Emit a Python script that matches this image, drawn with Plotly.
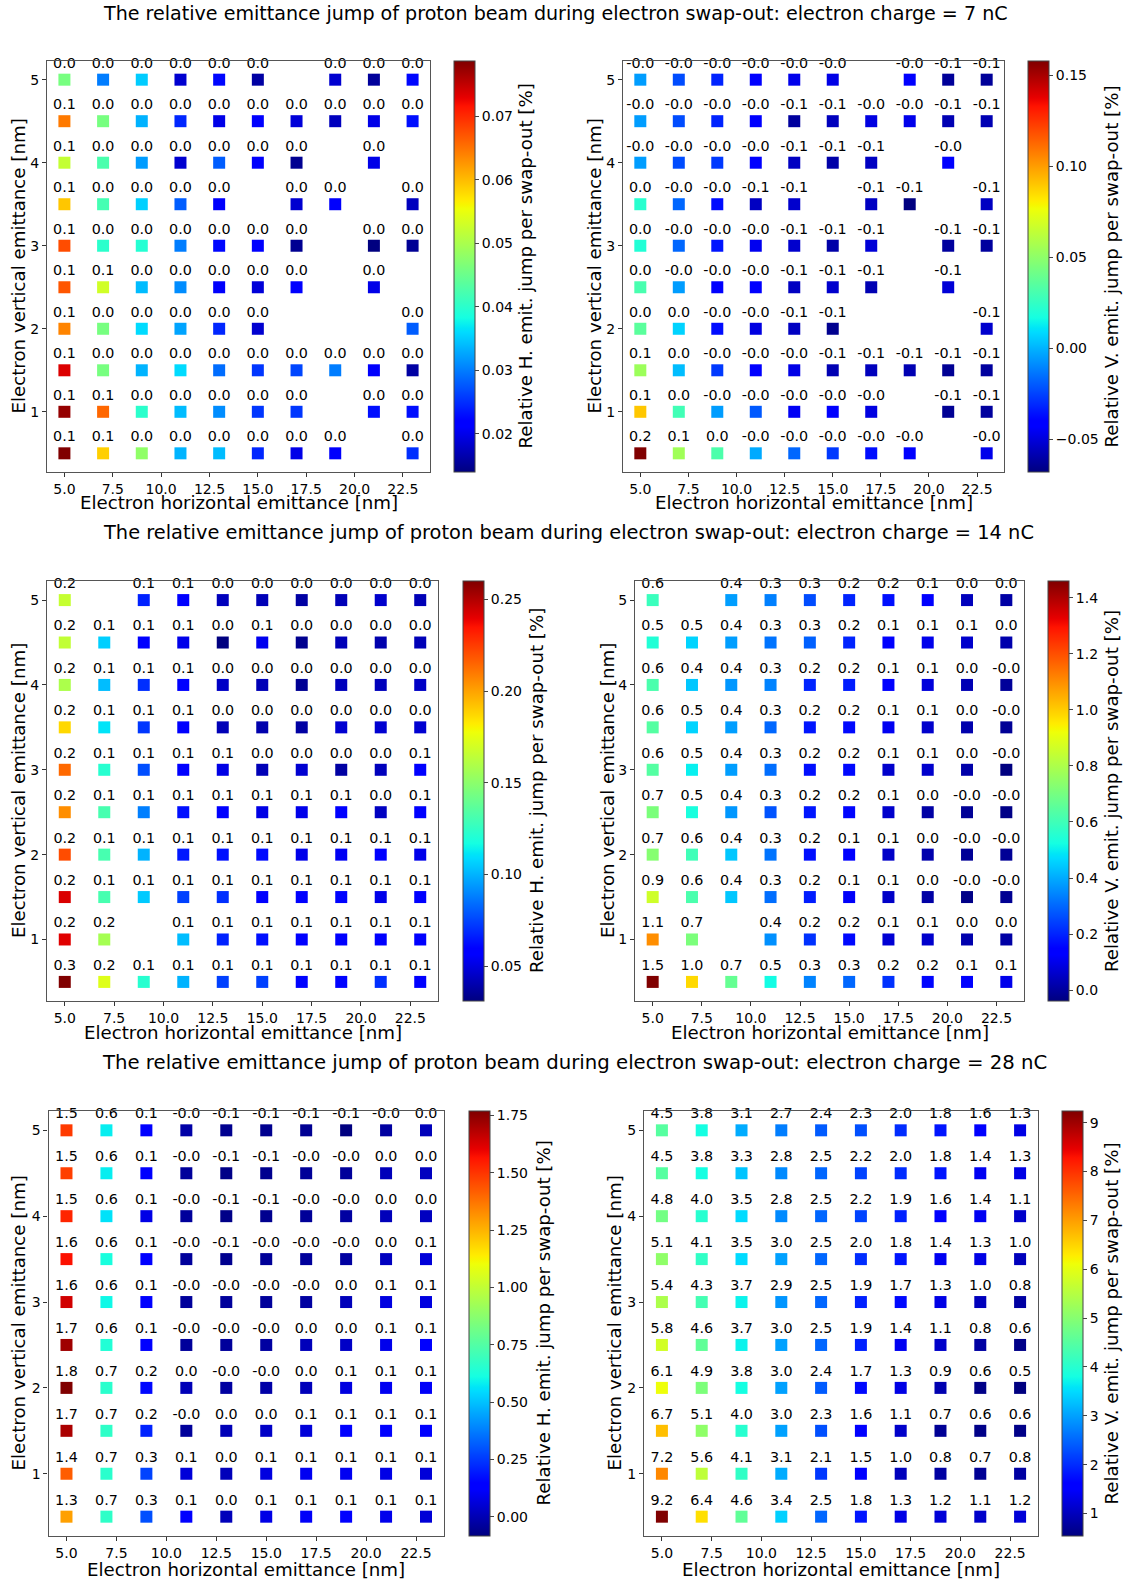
import numpy as np
import plotly.graph_objects as go

# Electron beam emittance grid
x_emit = [5, 7, 9, 11, 13, 15, 17, 19, 21, 23]           # horizontal [nm]
y_rows = [5.0, 4.5, 4.0, 3.5, 3.0, 2.5, 2.0, 1.5, 1.0, 0.5]  # vertical [nm], top row first

# Relative emittance jump per swap-out [%]; rows follow y_rows, columns follow x_emit
h_7nC = [
    [0.046, 0.030, 0.035, 0.0185, 0.0225, 0.016, None, 0.0185, 0.0155, 0.0225],
    [0.0645, 0.046, 0.0334, 0.0245, 0.0198, 0.0211, 0.019, 0.0175, 0.0198, 0.023],
    [0.052, 0.0425, 0.032, 0.0185, 0.028, 0.021, 0.015, None, 0.0198, None],
    [0.0593, 0.042, 0.0353, 0.028, 0.021, None, 0.0185, 0.021, None, 0.0175],
    [0.0677, 0.040, 0.0395, 0.030, 0.0225, 0.022, 0.015, None, 0.014, 0.0152],
    [0.067, 0.053, 0.034, 0.031, 0.021, 0.019, 0.0215, None, 0.0198, None],
    [0.0638, 0.046, 0.036, 0.0325, 0.0245, 0.0185, None, None, None, 0.028],
    [0.0735, 0.046, 0.0335, 0.036, 0.029, 0.0255, 0.0265, 0.030, 0.021, 0.016],
    [0.0775, 0.0658, 0.040, 0.034, 0.031, 0.0255, 0.0255, None, 0.023, 0.023],
    [0.0787, 0.0587, 0.048, 0.0335, 0.034, 0.0245, 0.0198, 0.021, None, 0.025],
]
v_7nC = [
    [-0.005, -0.023, -0.032, -0.040, -0.047, -0.048, None, -0.040, -0.063, -0.063],
    [-0.005, -0.023, -0.032, -0.040, -0.062, -0.056, -0.049, -0.047, -0.058, -0.058],
    [-0.005, -0.023, -0.027, -0.040, -0.055, -0.060, -0.055, None, -0.040, None],
    [0.022, -0.017, -0.037, -0.055, -0.053, None, -0.055, -0.068, None, -0.055],
    [0.020, -0.017, -0.035, -0.046, -0.053, -0.060, -0.051, None, -0.062, -0.062],
    [0.031, -0.005, -0.043, -0.040, -0.055, -0.053, -0.058, None, -0.051, None],
    [0.036, 0.007, -0.037, -0.049, -0.055, -0.065, None, None, None, -0.053],
    [0.054, 0.002, -0.027, -0.040, -0.048, -0.058, -0.056, -0.058, -0.064, -0.062],
    [0.090, 0.029, -0.005, -0.020, -0.045, -0.041, -0.049, None, -0.064, -0.062],
    [0.158, 0.055, 0.032, -0.002, -0.017, -0.027, -0.037, -0.040, None, -0.047],
]
h_14nC = [
    [0.166, None, 0.067, 0.058, 0.043, 0.042, 0.038, 0.042, 0.046, 0.042],
    [0.165, 0.106, 0.058, 0.052, 0.031, 0.053, 0.034, 0.042, 0.040, 0.042],
    [0.159, 0.102, 0.070, 0.057, 0.045, 0.042, 0.035, 0.043, 0.043, 0.045],
    [0.187, 0.111, 0.072, 0.057, 0.042, 0.040, 0.038, 0.047, 0.047, 0.047],
    [0.214, 0.122, 0.077, 0.057, 0.051, 0.042, 0.047, 0.038, 0.043, 0.057],
    [0.205, 0.131, 0.088, 0.063, 0.058, 0.051, 0.052, 0.057, 0.044, 0.058],
    [0.221, 0.131, 0.100, 0.065, 0.063, 0.062, 0.052, 0.054, 0.057, 0.052],
    [0.242, 0.131, 0.105, 0.074, 0.070, 0.057, 0.058, 0.060, 0.052, 0.058],
    [0.241, 0.157, None, 0.102, 0.067, 0.063, 0.057, 0.057, 0.058, 0.058],
    [0.260, 0.173, 0.122, 0.100, 0.074, 0.074, 0.060, 0.060, 0.070, 0.058],
]
v_14nC = [
    [0.59, None, 0.38, 0.336, 0.26, 0.20, 0.17, 0.126, 0.04, 0.01],
    [0.546, 0.46, 0.38, 0.32, 0.29, 0.20, 0.13, 0.10, 0.06, 0.02],
    [0.62, 0.44, 0.37, 0.34, 0.20, 0.19, 0.13, 0.08, 0.03, -0.005],
    [0.64, 0.46, 0.38, 0.30, 0.18, 0.16, 0.11, 0.06, 0.02, -0.01],
    [0.64, 0.50, 0.38, 0.31, 0.17, 0.16, 0.06, 0.06, 0.015, -0.039],
    [0.71, 0.53, 0.37, 0.27, 0.18, 0.155, 0.06, 0.01, -0.01, -0.03],
    [0.73, 0.60, 0.44, 0.32, 0.17, 0.13, 0.055, 0.02, -0.01, -0.01],
    [0.86, 0.62, 0.44, 0.31, 0.19, 0.12, 0.055, 0.01, -0.03, -0.015],
    [1.10, 0.71, None, 0.36, 0.22, 0.16, 0.07, 0.06, 0.02, 0.01],
    [1.46, 0.98, 0.67, 0.52, 0.34, 0.30, 0.22, 0.155, 0.13, 0.10],
]
h_28nC = [
    [1.49, 0.58, 0.14, -0.02, -0.06, -0.06, -0.055, -0.084, -0.03, 0.01],
    [1.48, 0.58, 0.12, -0.04, -0.07, -0.06, -0.045, -0.04, 0.01, 0.02],
    [1.53, 0.56, 0.08, -0.04, -0.07, -0.06, -0.045, -0.03, 0.01, 0.02],
    [1.57, 0.62, 0.12, -0.04, -0.06, -0.045, -0.04, -0.03, 0.02, 0.06],
    [1.64, 0.60, 0.12, -0.04, -0.04, -0.04, -0.03, 0.01, 0.07, 0.07],
    [1.72, 0.64, 0.12, -0.04, -0.04, -0.03, 0.01, 0.03, 0.09, 0.13],
    [1.77, 0.66, 0.16, 0.005, -0.03, -0.02, 0.01, 0.07, 0.10, 0.11],
    [1.70, 0.67, 0.21, -0.04, 0.005, 0.03, 0.06, 0.12, 0.12, 0.12],
    [1.42, 0.66, 0.27, 0.06, 0.01, 0.07, 0.10, 0.10, 0.08, 0.06],
    [1.29, 0.67, 0.29, 0.12, 0.01, 0.08, 0.11, 0.12, 0.09, 0.055],
]
v_28nC = [
    [4.5, 3.8, 3.1, 2.7, 2.4, 2.3, 2.0, 1.8, 1.6, 1.3],
    [4.5, 3.8, 3.3, 2.8, 2.5, 2.2, 2.0, 1.8, 1.4, 1.3],
    [4.8, 4.0, 3.5, 2.8, 2.5, 2.2, 1.9, 1.6, 1.4, 1.1],
    [5.1, 4.1, 3.5, 3.0, 2.5, 2.0, 1.8, 1.4, 1.3, 1.0],
    [5.4, 4.3, 3.7, 2.9, 2.5, 1.9, 1.7, 1.3, 1.0, 0.8],
    [5.8, 4.6, 3.7, 3.0, 2.5, 1.9, 1.4, 1.1, 0.8, 0.6],
    [6.1, 4.9, 3.8, 3.0, 2.4, 1.7, 1.3, 0.9, 0.6, 0.54],
    [6.7, 5.1, 4.0, 3.0, 2.3, 1.6, 1.1, 0.7, 0.6, 0.6],
    [7.2, 5.6, 4.1, 3.1, 2.1, 1.5, 1.0, 0.8, 0.7, 0.8],
    [9.24, 6.4, 4.6, 3.4, 2.5, 1.8, 1.3, 1.2, 1.1, 1.2],
]

charges = ["7", "14", "28"]
h_label = "Relative H. emit. jump per swap-out [%]"
v_label = "Relative V. emit. jump per swap-out [%]"
x_label = "Electron horizontal emittance [nm]"
y_label = "Electron vertical emittance [nm]"

W, H = 1132, 1582
FONT = "DejaVu Sans"


def fx(px):
    return px / W


def fy(py):
    return 1 - py / H


# matplotlib-style "jet" colour map
_jet = {
    "r": [(0.0, 0.0), (0.35, 0.0), (0.66, 1.0), (0.89, 1.0), (1.0, 0.5)],
    "g": [(0.0, 0.0), (0.125, 0.0), (0.375, 1.0), (0.64, 1.0), (0.91, 0.0), (1.0, 0.0)],
    "b": [(0.0, 0.5), (0.11, 1.0), (0.34, 1.0), (0.65, 0.0), (1.0, 0.0)],
}
stops = sorted(set(np.round(np.linspace(0, 1, 101), 4).tolist()
                   + [p for seg in _jet.values() for p, _ in seg]))
jet = []
for s in stops:
    rgb = [np.interp(s, [p for p, _ in _jet[c]], [v for _, v in _jet[c]]) for c in "rgb"]
    jet.append([s, "rgb({:.0f},{:.0f},{:.0f})".format(*(255 * np.array(rgb)))])

# panel layout in pixels: plot frame (x0, x1, y0, y1), colour-bar left edge,
# colour-bar tick step/format, and centres of the axis / colour-bar titles
panels = [
    dict(z=h_7nC, cb=h_label, frame=(47, 430, 61, 472), cbx=454, dtick=0.01, fmt=".2f",
         xt=503, yt=18, cbt=525),
    dict(z=v_7nC, cb=v_label, frame=(623, 1004, 61, 472), cbx=1028, dtick=0.05, fmt=".2f",
         xt=503, yt=594, cbt=1111),
    dict(z=h_14nC, cb=h_label, frame=(47, 438, 581, 1001), cbx=462.5, dtick=0.05, fmt=".2f",
         xt=1032, yt=18, cbt=536),
    dict(z=v_14nC, cb=v_label, frame=(635, 1024, 581, 1001), cbx=1048, dtick=0.2, fmt=".1f",
         xt=1032, yt=607, cbt=1111),
    dict(z=h_28nC, cb=h_label, frame=(48.5, 444, 1111, 1536), cbx=469, dtick=0.25, fmt=".2f",
         xt=1569, yt=18, cbt=543),
    dict(z=v_28nC, cb=v_label, frame=(644, 1038, 1111, 1536), cbx=1062, dtick=1, fmt="d",
         xt=1569, yt=614, cbt=1111),
]
# suptitle centre (x, y) and font size for each charge
title_pos = [(555.5, 13, 19.1), (568, 533, 19.4), (575, 1062, 19.7)]

fig = go.Figure()
annotations = []
axis_common = dict(showline=True, mirror=True, linecolor="#555", linewidth=1.2,
                   ticks="outside", ticklen=4, tickcolor="#333", showgrid=False,
                   zeroline=False, tickfont=dict(size=14, color="black", family=FONT))
lab = dict(size=18.2, color="black", family=FONT)

for i, p in enumerate(panels):
    xs, ys, cs, txt = [], [], [], []
    for r, yv in enumerate(y_rows):
        for c, xv in enumerate(x_emit):
            v = p["z"][r][c]
            if v is None:
                continue
            xs.append(xv)
            ys.append(yv)
            cs.append(v)
            txt.append(f"{v:.1f}")
    x0, x1, y0, y1 = p["frame"]
    n = i + 1
    xa = "x" if n == 1 else f"x{n}"
    ya = "y" if n == 1 else f"y{n}"
    fig.add_trace(go.Scatter(
        x=xs, y=ys, mode="markers+text", xaxis=xa, yaxis=ya,
        text=txt, textposition="top center", cliponaxis=False,
        textfont=dict(size=14.3, color="black", family=FONT),
        marker=dict(symbol="square", size=12, color=cs, colorscale=jet,
                    cmin=min(cs), cmax=max(cs), line=dict(width=0),
                    colorbar=dict(x=fx(p["cbx"]), xanchor="left", xpad=0,
                                  y=fy(y0), yanchor="top", ypad=0,
                                  len=y1 - y0, lenmode="pixels",
                                  thickness=21, thicknessmode="pixels",
                                  outlinewidth=1, outlinecolor="#444",
                                  ticks="outside", ticklen=4,
                                  dtick=p["dtick"], tick0=0, tickformat=p["fmt"],
                                  tickfont=dict(size=14, color="black", family=FONT))),
        showlegend=False, hoverinfo="skip"))
    key = "" if n == 1 else str(n)
    fig.layout["xaxis" + key] = dict(axis_common, domain=[fx(x0), fx(x1)], range=[4.1, 23.9],
                                      tick0=5, dtick=2.5, tickformat=".1f",
                                      anchor=ya)
    fig.layout["yaxis" + key] = dict(axis_common, domain=[fy(y1), fy(y0)], range=[0.275, 5.225],
                                      tick0=0, dtick=1, anchor=xa)
    annotations.append(dict(text=x_label, x=fx((x0 + x1) / 2), y=fy(p["xt"]), xref="paper",
                            yref="paper", showarrow=False, font=lab,
                            xanchor="center", yanchor="middle"))
    annotations.append(dict(text=y_label, x=fx(p["yt"]), y=fy((y0 + y1) / 2), xref="paper",
                            yref="paper", showarrow=False, font=lab, textangle=-90,
                            xanchor="center", yanchor="middle"))
    annotations.append(dict(text=p["cb"], x=fx(p["cbt"]), y=fy((y0 + y1) / 2), xref="paper",
                            yref="paper", showarrow=False, font=lab, textangle=-90,
                            xanchor="center", yanchor="middle"))

for q, (tx, ty, ts) in zip(charges, title_pos):
    annotations.append(dict(
        text=f"The relative emittance jump of proton beam during electron swap-out: electron charge = {q} nC",
        x=fx(tx), y=fy(ty), xref="paper", yref="paper", showarrow=False,
        xanchor="center", yanchor="middle",
        font=dict(size=ts, color="black", family=FONT)))

fig.update_layout(width=W, height=H, margin=dict(l=0, r=0, t=0, b=0),
                  paper_bgcolor="white", plot_bgcolor="white",
                  font=dict(family=FONT, color="black"),
                  annotations=annotations)

fig.write_html("out.html")
